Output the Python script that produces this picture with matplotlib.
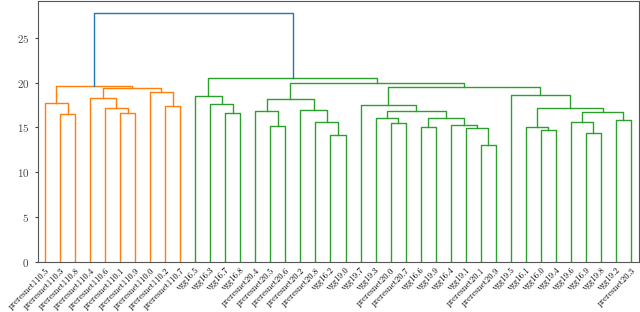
import numpy as np
import matplotlib
matplotlib.use("Agg")
import matplotlib.pyplot as plt

plt.rcParams['font.family'] = 'serif'
plt.rcParams['font.serif'] = ['cmr10', 'DejaVu Serif']
plt.rcParams['axes.formatter.use_mathtext'] = True

# leaf labels in display order
labels = [
    'preresnet110.5', 'preresnet110.3', 'preresnet110.8', 'preresnet110.4',
    'preresnet110.6', 'preresnet110.1', 'preresnet110.9', 'preresnet110.0',
    'preresnet110.2', 'preresnet110.7',
    'vgg16.5', 'vgg16.3', 'vgg16.7', 'vgg16.8',
    'preresnet20.4', 'preresnet20.5', 'preresnet20.6', 'preresnet20.2',
    'preresnet20.8', 'vgg16.2', 'vgg19.0', 'vgg19.7', 'vgg19.3',
    'preresnet20.0', 'preresnet20.7', 'vgg16.6', 'vgg19.9', 'vgg16.4',
    'vgg19.1', 'preresnet20.1', 'preresnet20.9', 'vgg19.5', 'vgg16.1',
    'vgg16.0', 'vgg19.4', 'vgg19.6', 'vgg16.9', 'vgg19.8', 'vgg19.2',
    'preresnet20.3',
]

# merges (scipy-style): child a, child b, distance; new clusters numbered from n
merge_a = [1, 0, 5, 4, 3, 8, 7, 44, 41,
           12, 11, 10, 15, 14, 19, 18, 17, 53,
           23, 22, 25, 29, 28, 27, 60, 59, 21,
           33, 32, 36, 35, 38, 70, 68, 31, 66, 57, 51, 48]
merge_b = [2, 40, 6, 42, 43, 9, 45, 46, 47,
           13, 49, 50, 16, 52, 20, 54, 55, 56,
           24, 58, 26, 30, 61, 62, 63, 64, 65,
           34, 67, 37, 69, 39, 71, 72, 73, 74, 75, 76, 77]
merge_h = [16.5, 17.7, 16.55, 17.2, 18.3, 17.4, 18.9, 19.4, 19.6,
           16.6, 17.6, 18.5, 15.2, 16.85, 14.15, 15.6, 16.95, 18.15,
           15.45, 16.05, 15.0, 13.0, 14.95, 15.3, 16.05, 16.8, 17.45,
           14.7, 15.05, 14.4, 15.6, 15.85, 16.75, 17.15, 18.6, 19.45, 19.9,
           20.55, 27.7]

n = len(labels)
threshold = 25.0
cluster_colors = ['C1', 'C2']

parent = {}
for j in range(len(merge_h)):
    parent[merge_a[j]] = n + j
    parent[merge_b[j]] = n + j

# colour each top cluster below the threshold
color_of = {}
ci = 0
for k in range(len(merge_h) - 1, -1, -1):
    if merge_h[k] < threshold:
        continue
    for child in (merge_a[k], merge_b[k]):
        if child >= n and merge_h[child - n] < threshold:
            color_of[child] = cluster_colors[ci % 2]
            ci += 1


def link_colour(k):
    c = n + k
    while c is not None:
        if c in color_of:
            return color_of[c]
        c = parent.get(c)
    return 'C0'


fig = plt.figure(figsize=(6.4, 3.12), dpi=100)
ax = fig.add_axes([37.5 / 640, 50 / 312, 601 / 640, 261 / 312])

pos = {i: (5 + 10 * i, 0.0) for i in range(n)}
for k in range(len(merge_h)):
    xa, ya = pos[merge_a[k]]
    xb, yb = pos[merge_b[k]]
    h = merge_h[k]
    pos[n + k] = ((xa + xb) / 2, h)
    ax.plot([xa, xa, xb, xb], [ya, h, h, yb], color=link_colour(k), lw=1.0)

ax.set_xlim(0, 10 * n)
ax.set_ylim(0, max(merge_h) * 1.05)
ax.set_xticks([5 + 10 * i for i in range(n)])
ax.set_xticklabels(labels, rotation=45, ha='right', rotation_mode='anchor',
                   fontsize=6.3)
ax.tick_params(axis='x', length=0, pad=3)
ax.tick_params(axis='y', labelsize=8, length=2.5, colors='#444444')
ax.set_yticks([0, 5, 10, 15, 20, 25])
for s in ax.spines.values():
    s.set_color('#555555')

fig.savefig('out.png', dpi=100)
